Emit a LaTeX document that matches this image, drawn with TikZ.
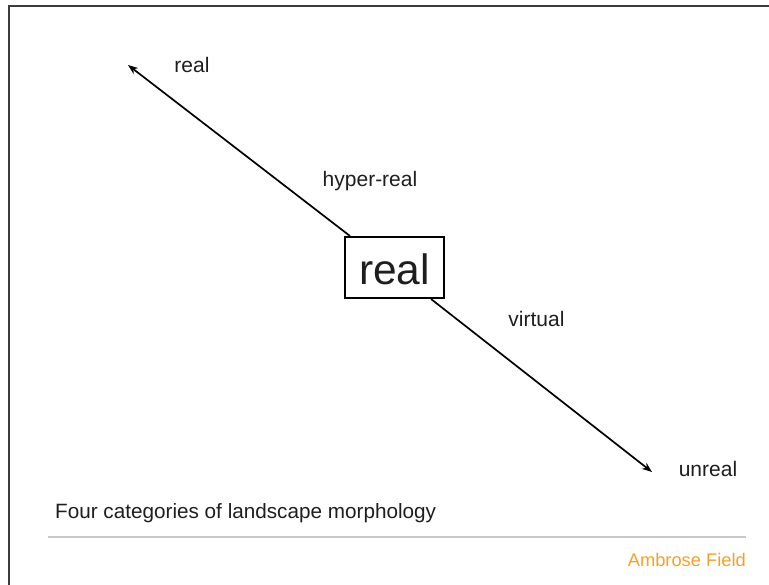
\documentclass[tikz,border=0pt]{standalone}
\usepackage{fontspec}
\setmainfont{Liberation Sans}
\usetikzlibrary{arrows.meta}
\definecolor{ink}{RGB}{30,30,30}
\definecolor{framec}{RGB}{60,60,60}
\definecolor{rulec}{RGB}{200,200,200}
\definecolor{amber}{RGB}{247,160,40}
\tikzset{
  lbl/.style={inner sep=0pt, text=ink, font=\fontsize{21}{24}\selectfont, anchor=base},
  capt/.style={inner sep=0pt, text=ink, font=\fontsize{20.7}{24}\selectfont, anchor=base west},
  author/.style={inner sep=0pt, text=amber, font=\fontsize{18.3}{22}\selectfont, anchor=base east},
  bigbox/.style={draw=black, line width=1.4pt, minimum width=99pt, minimum height=61pt, inner sep=0pt},
  conn/.style={line width=1.7pt, -{Stealth[length=10pt,width=7.5pt]}},
}
\begin{document}
\begin{tikzpicture}[x=1pt,y=-1pt]
\useasboundingbox (0,0) rectangle (769,585);
% frame
\draw[framec, line width=1.3pt] (9,585) -- (9,6) -- (769,6);
% central box
\node[bigbox] (box) at (394.5,267.5) {};
\node[lbl, font=\fontsize{42.5}{46}\selectfont] (bigtxt) at (394.5,285) {real};
% arrow end points
\coordinate (tl) at (128,65);
\coordinate (br) at (652,472);
\coordinate (s1) at (350,236);
\coordinate (s2) at (431,299);
\draw[conn] (s1) -- (tl);
\draw[conn] (s2) -- (br);
% labels
\node[lbl] (lreal) at (192,73) {real};
\node[lbl] (lhyper) at (370,186.5) {hyper-real};
\node[lbl] (lvirt) at (536.5,326.5) {virtual};
\node[lbl] (lunreal) at (708,476) {unreal};
% caption and rule
\node[capt] (cap) at (55,518) {Four categories of landscape morphology};
\coordinate (r1) at (48,537);
\coordinate (r2) at (746,537);
\draw[rulec, line width=1.3pt] (r1) -- (r2);
\node[author] (auth) at (746,566.5) {Ambrose Field};
\end{tikzpicture}
\end{document}
